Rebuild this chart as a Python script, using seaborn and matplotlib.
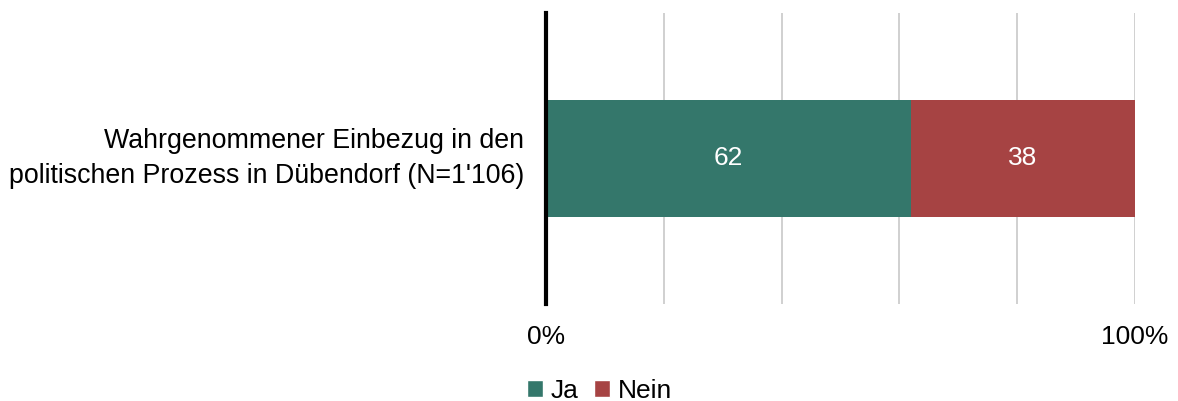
import matplotlib
matplotlib.use("Agg")
import matplotlib.pyplot as plt
import seaborn as sns
import pandas as pd
from matplotlib.patches import Patch

category = ["Wahrgenommener Einbezug in den\npolitischen Prozess in Dübendorf (N=1'106)"]
ja = [62]
nein = [38]
series_names = ["Ja", "Nein"]
colors = ["#34776B", "#A64343"]

sns.set_theme(style="white")
plt.rcParams["font.family"] = ["Liberation Sans", "DejaVu Sans"]
plt.rcParams["text.color"] = "black"
plt.rcParams["xtick.color"] = "black"
plt.rcParams["ytick.color"] = "black"

df = pd.DataFrame({"cat": category, "ja": ja, "nein": nein})

fig = plt.figure(figsize=(11.78, 4.01), dpi=100)
ax = fig.add_axes([0.4635, 0.2419, 0.5, 0.7257])

# stacked bars: "Nein" starts where "Ja" ends
sns.barplot(data=df, y="cat", x="ja", color=colors[0], width=0.4,
            saturation=1, linewidth=0, ax=ax, zorder=2)
sns.barplot(data=df, y="cat", x="nein", left=df["ja"].values, color=colors[1],
            width=0.4, saturation=1, linewidth=0, ax=ax, zorder=2)

ax.bar_label(ax.containers[0], labels=[str(v) for v in ja], label_type="center",
             color="white", fontsize=19)
ax.bar_label(ax.containers[1], labels=[str(v) for v in nein], label_type="center",
             color="white", fontsize=19)

ax.set_xlim(0, 100)
ax.set_ylim(0.5, -0.5)
ax.set_xticks([0, 20, 40, 60, 80, 100])
ax.set_xticklabels(["0%", "", "", "", "", "100%"], fontsize=19)
ax.tick_params(axis="x", length=0, pad=15)
ax.tick_params(axis="y", length=0, pad=16, labelsize=19.3)
for lbl in ax.get_yticklabels():
    lbl.set_horizontalalignment("right")
    lbl.set_verticalalignment("center")
    lbl.set_linespacing(1.47)
ax.set_xlabel("")
ax.set_ylabel("")
ax.xaxis.grid(True, color="#c8c8c8", linewidth=1.2)
ax.set_axisbelow(True)
for s in ["top", "right", "bottom"]:
    ax.spines[s].set_visible(False)
ax.spines["left"].set_color("black")
ax.spines["left"].set_linewidth(3)
ax.spines["left"].set_zorder(5)

handles = [Patch(facecolor=c, label=n) for c, n in zip(colors, series_names)]
fig.legend(handles=handles, loc="center", bbox_to_anchor=(0.509, 0.025),
           ncol=2, frameon=False, fontsize=19, handlelength=0.6,
           handleheight=0.6, handletextpad=0.3, columnspacing=0.6)

fig.savefig("out.png", dpi=100)
